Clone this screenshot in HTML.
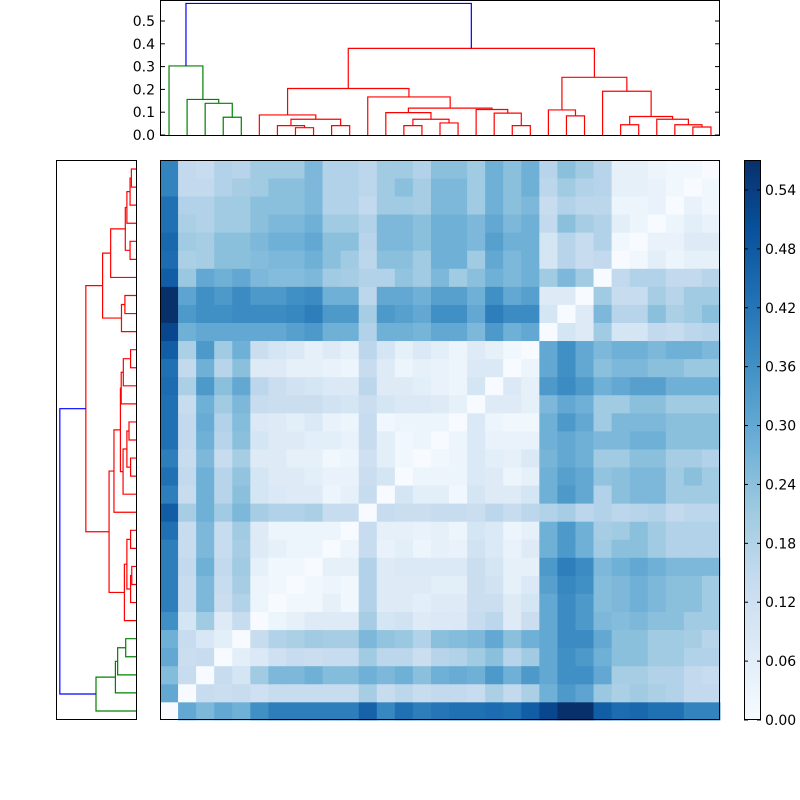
<!DOCTYPE html>
<html><head><meta charset="utf-8">
<style>
html,body{margin:0;padding:0;background:#fff;}
svg{display:block;font-family:"DejaVu Sans","Liberation Sans",sans-serif;}
</style></head>
<body>
<svg id="s" width="800" height="800" viewBox="0 0 800 800" xmlns="http://www.w3.org/2000/svg">
<defs>
<linearGradient id="cb" x1="0" y1="1" x2="0" y2="0">
<stop offset="0" stop-color="#f7fbff"/><stop offset="0.125" stop-color="#deebf7"/>
<stop offset="0.25" stop-color="#c6dbef"/><stop offset="0.375" stop-color="#9ecae1"/>
<stop offset="0.5" stop-color="#6baed6"/><stop offset="0.625" stop-color="#4292c6"/>
<stop offset="0.75" stop-color="#2171b5"/><stop offset="0.875" stop-color="#08519c"/>
<stop offset="1" stop-color="#08306b"/>
</linearGradient>
</defs>
<rect width="800" height="800" fill="#fff"/>
<g id="heat"></g>
<g id="dtop" fill="none" stroke-width="1.2"></g>
<g id="dleft" fill="none" stroke-width="1.2"></g>
<rect x="160.5" y="160.5" width="559" height="559" fill="none" stroke="#000"/>
<rect x="160.5" y="0.5" width="559" height="135" fill="none" stroke="#000"/>
<rect x="56.5" y="160.5" width="80" height="559" fill="none" stroke="#000"/>
<rect x="744" y="160" width="17" height="560" fill="url(#cb)"/>
<rect x="744.5" y="160.5" width="16" height="559" fill="none" stroke="#000"/>
<g id="tt" font-size="14" fill="#000"></g>
</svg>
<script>
var NS="http://www.w3.org/2000/svg";
function el(p,t,a,txt){var e=document.createElementNS(NS,t);for(var k in a)e.setAttribute(k,a[k]);if(txt!==undefined)e.textContent=txt;p.appendChild(e);return e;}
var N=31,cs=560/31;
var A=[
[0,.3,.26,.3,.28,.36,.4,.4,.4,.4,.4,.46,.38,.43,.4,.42,.43,.43,.44,.43,.47,.52,.57,.57,.47,.44,.45,.43,.43,.39,.39],
[.3,0,.14,.13,.14,.12,.14,.14,.14,.14,.14,.2,.14,.16,.14,.15,.15,.14,.19,.15,.19,.28,.34,.31,.22,.19,.21,.19,.18,.15,.15],
[.25,.14,0,.14,.1,.21,.26,.26,.28,.25,.25,.28,.26,.28,.24,.28,.29,.28,.34,.28,.34,.3,.36,.36,.3,.2,.2,.18,.18,.15,.14],
[.3,.13,.14,0,.06,.08,.12,.14,.13,.14,.14,.21,.16,.16,.13,.17,.18,.21,.24,.17,.21,.3,.36,.34,.28,.24,.24,.21,.21,.18,.18],
[.28,.14,.09,.06,0,.14,.18,.19,.21,.2,.2,.26,.23,.22,.18,.24,.25,.26,.3,.24,.28,.3,.37,.37,.3,.24,.24,.21,.21,.2,.17],
[.36,.1,.21,.07,.14,0,.03,.05,.07,.07,.07,.2,.1,.11,.07,.08,.08,.14,.16,.07,.13,.3,.37,.34,.26,.25,.26,.24,.24,.21,.21],
[.4,.14,.26,.13,.18,.03,0,.02,.02,.05,.02,.18,.07,.07,.06,.07,.07,.13,.13,.07,.1,.3,.37,.34,.25,.26,.28,.26,.24,.24,.21],
[.4,.14,.26,.14,.2,.03,.02,0,.02,.03,.02,.18,.07,.07,.07,.06,.06,.13,.11,.05,.08,.32,.38,.36,.25,.26,.28,.26,.24,.24,.21],
[.4,.15,.28,.15,.21,.05,.02,.02,0,.05,.05,.18,.07,.08,.08,.08,.08,.13,.1,.05,.05,.34,.4,.37,.26,.28,.3,.28,.26,.26,.26],
[.4,.14,.26,.14,.2,.07,.05,.03,.03,0,.03,.14,.04,.06,.03,.05,.04,.11,.08,.04,.07,.28,.34,.28,.21,.24,.24,.21,.18,.18,.18],
[.43,.14,.26,.14,.21,.07,.03,.03,.03,.03,0,.14,.05,.05,.04,.05,.03,.1,.08,.03,.05,.28,.34,.28,.2,.21,.24,.21,.18,.18,.18],
[.47,.2,.28,.21,.26,.2,.18,.18,.19,.14,.14,0,.14,.13,.13,.14,.14,.13,.16,.14,.16,.18,.2,.16,.18,.16,.17,.18,.15,.16,.16],
[.4,.14,.28,.17,.24,.1,.08,.07,.07,.03,.05,.14,0,.1,.06,.06,.02,.1,.07,.07,.1,.28,.34,.3,.18,.24,.26,.26,.21,.21,.21],
[.43,.15,.28,.17,.23,.1,.07,.07,.06,.04,.04,.13,.1,0,.03,.03,.03,.08,.07,.03,.05,.28,.32,.3,.23,.24,.26,.26,.21,.24,.21],
[.4,.14,.26,.14,.2,.07,.07,.05,.05,.02,.03,.12,.06,.02,0,.02,.03,.08,.06,.05,.08,.27,.3,.28,.21,.21,.24,.24,.2,.2,.18],
[.43,.15,.28,.17,.24,.1,.07,.07,.06,.06,.04,.14,.06,.02,.03,0,.03,.08,.04,.04,.04,.28,.3,.28,.26,.26,.28,.28,.24,.24,.24]];
var B=[
[.03,0,.08,.03,.02,.02,.28,.34,.3,.21,.26,.26,.26,.24,.24,.24],
[.07,.05,0,.07,.07,.05,.26,.3,.28,.21,.21,.24,.24,.21,.21,.21],
[.04,.03,.1,0,.08,.05,.34,.37,.34,.28,.3,.32,.32,.28,.28,.28],
[.04,.03,.08,.08,0,.03,.3,.36,.3,.24,.26,.26,.24,.24,.22,.22],
[.06,.03,.07,.05,.02,0,.3,.36,.3,.26,.28,.28,.26,.28,.28,.26],
[.3,.3,.26,.34,.28,.3,0,.1,.07,.21,.1,.1,.15,.14,.16,.17],
[.36,.36,.3,.4,.37,.37,.1,0,.07,.26,.17,.17,.24,.19,.21,.24],
[.32,.32,.28,.36,.3,.32,.07,.07,0,.21,.14,.14,.2,.17,.21,.21],
[.26,.21,.24,.28,.26,.28,.21,.26,.21,0,.15,.18,.18,.15,.15,.17],
[.28,.28,.21,.3,.26,.28,.1,.17,.14,.15,0,.02,.06,.03,.05,.05],
[.28,.28,.26,.32,.28,.28,.1,.17,.14,.18,.02,0,.04,.04,.07,.07],
[.28,.28,.26,.3,.26,.28,.15,.24,.2,.18,.06,.03,0,.03,.06,.04],
[.26,.26,.21,.28,.24,.26,.14,.18,.16,.16,.03,.03,.04,0,.04,.02],
[.26,.26,.21,.28,.24,.28,.16,.21,.18,.17,.05,.05,.04,.02,0,.02],
[.24,.24,.21,.28,.24,.28,.17,.24,.21,.17,.05,.05,.03,.02,.02,0]];
var M=[];for(var r=0;r<N;r++){M.push(new Array(N));}
for(var r=0;r<16;r++)for(var c=0;c<N;c++)M[r][c]=A[r][c];
for(var r=16;r<N;r++){for(var c=15;c<N;c++)M[r][c]=B[r-16][c-15];}
for(var r=16;r<N;r++)for(var c=0;c<15;c++)M[r][c]=M[c][r];
var stops=[[247,251,255],[222,235,247],[198,219,239],[158,202,225],[107,174,214],[66,146,198],[33,113,181],[8,81,156],[8,48,107]];
function col(v){var t=Math.max(0,Math.min(1,v/0.5705))*8;var i=Math.min(7,Math.floor(t)),f=t-i;var a=stops[i],b=stops[i+1];
return "rgb("+Math.round(a[0]+(b[0]-a[0])*f)+","+Math.round(a[1]+(b[1]-a[1])*f)+","+Math.round(a[2]+(b[2]-a[2])*f)+")";}
var H=document.getElementById("heat");
for(var r=0;r<N;r++)for(var c=0;c<N;c++){
 var x0=160+c*cs,y0=720-(r+1)*cs;
 el(H,"rect",{x:x0.toFixed(2),y:y0.toFixed(2),width:(cs+0.4).toFixed(2),height:(cs+0.4).toFixed(2),fill:col(M[r][c])});
}
var g="#008000",rd="#ff0000",bl="#0000ff";
var L=[
[3,0,4,0,.078,g],[2,0,3.5,.078,.139,g],[1,0,2.75,.139,.156,g],[0,0,1.875,.156,.303,g],
[7,0,8,0,.032,rd],[6,0,7.5,.032,.041,rd],[9,0,10,0,.041,rd],[6.75,.041,9.5,.041,.069,rd],[5,0,8.125,.069,.088,rd],
[13,0,14,0,.041,rd],[15,0,16,0,.053,rd],[13.5,.041,15.5,.053,.069,rd],[12,0,14.5,.069,.098,rd],
[19,0,20,0,.041,rd],[18,0,19.5,.041,.096,rd],[17,0,18.75,.096,.112,rd],[13.25,.098,17.875,.112,.118,rd],
[11,0,15.5625,.118,.167,rd],[6.5625,.088,13.28125,.167,.204,rd],
[22,0,23,0,.084,rd],[21,0,22.5,.084,.110,rd],
[25,0,26,0,.045,rd],[29,0,30,0,.035,rd],[28,0,29.5,.035,.045,rd],[27,0,28.75,.045,.069,rd],[25.5,.045,27.875,.069,.081,rd],[24,0,26.6875,.081,.192,rd],
[21.75,.110,25.34375,.192,.253,rd],[9.921875,.204,23.546875,.253,.380,rd],
[0.9375,.303,16.734375,.380,.577,bl]];
var T=document.getElementById("dtop"),Lf=document.getElementById("dleft");
function tx(i){return 160+(i+0.5)*cs;} function ty(h){return 135-h*228;}
function ly(i){return 720-(i+0.5)*cs;} function lx(h){return 136-h*132;}
L.forEach(function(k){
 el(T,"path",{d:"M"+tx(k[0])+","+ty(k[1])+"V"+ty(k[4])+"H"+tx(k[2])+"V"+ty(k[3]),stroke:k[5]});
 el(Lf,"path",{d:"M"+lx(k[1])+","+ly(k[0])+"H"+lx(k[4])+"V"+ly(k[2])+"H"+lx(k[3]),stroke:k[5]});
});
var TT=document.getElementById("tt");
for(var i=0;i<=5;i++){var y=135-i*0.1*228;
 el(TT,"line",{x1:160,x2:165,y1:y,y2:y,stroke:"#000"});
 el(TT,"line",{x1:715,x2:720,y1:y,y2:y,stroke:"#000"});
 el(TT,"text",{x:155,y:y+5,"text-anchor":"end"},(i/10).toFixed(1));}
for(var i=0;i<=9;i++){var v=i*0.06,y=720-v*981.5;
 el(TT,"line",{x1:744,x2:748,y1:y,y2:y,stroke:"#000"});
 el(TT,"line",{x1:757,x2:761,y1:y,y2:y,stroke:"#000"});
 el(TT,"text",{x:765,y:y+5},v.toFixed(2));}
</script>
</body></html>
